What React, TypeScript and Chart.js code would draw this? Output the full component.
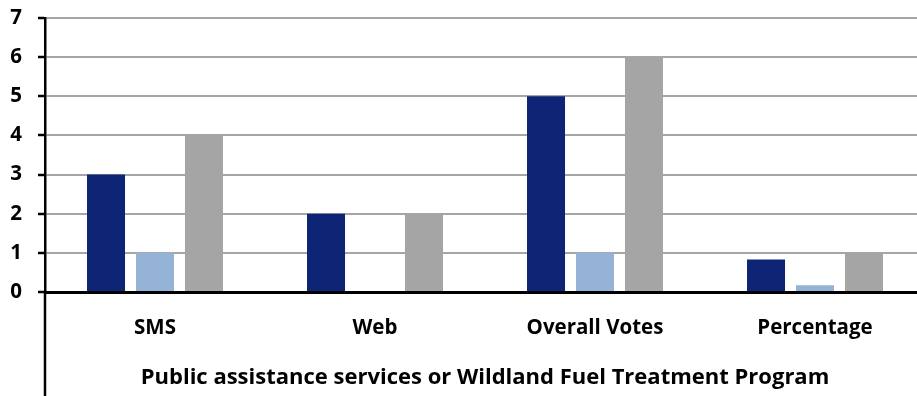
import React, { useEffect, useRef } from "react";
import { Chart, registerables } from "chart.js";

Chart.register(...registerables);

const categories = ["SMS", "Web", "Overall Votes", "Percentage"];
const series1 = [3, 2, 5, 0.83];
const series2 = [1, 0, 1, 0.17];
const series3 = [4, 2, 6, 1];
const yTicks = [0, 1, 2, 3, 4, 5, 6, 7];
const xTitle = "Public assistance services or Wildland Fuel Treatment Program";

const FONT = "'Open Sans', Lato, sans-serif";

const axisExtension = {
  id: "axisExtension",
  afterDraw(chart: any) {
    const { ctx, chartArea } = chart;
    const x = chart.scales.x.left;
    ctx.save();
    ctx.strokeStyle = "#000000";
    ctx.lineWidth = 2.5;
    ctx.beginPath();
    ctx.moveTo(x, chartArea.bottom);
    ctx.lineTo(x, chart.height);
    ctx.stroke();
    ctx.restore();
  },
};

export default function App() {
  const ref = useRef<HTMLCanvasElement | null>(null);
  useEffect(() => {
    if (!ref.current) return;
    const chart = new Chart(ref.current, {
      type: "bar",
      data: {
        labels: categories,
        datasets: [
          { label: "Series 1", data: series1, backgroundColor: "#0d2574" },
          { label: "Series 2", data: series2, backgroundColor: "#95b3d7" },
          { label: "Series 3", data: series3, backgroundColor: "#a5a5a5" },
        ],
      },
      options: {
        animation: false,
        responsive: false,
        maintainAspectRatio: false,
        layout: { padding: { top: 18, left: 0, right: 0, bottom: 0 } },
        plugins: { legend: { display: false }, tooltip: { enabled: false } },
        datasets: { bar: { categoryPercentage: 0.668, barPercentage: 0.776 } },
        scales: {
          x: {
            grid: { display: true, color: "transparent", drawTicks: false },
            border: { display: true, color: "#000000", width: 3 },
            ticks: {
              color: "#000000",
              padding: 24,
              font: { family: FONT, size: 20.5, weight: "bold" },
            },
            title: {
              display: true,
              text: xTitle,
              color: "#000000",
              font: { family: FONT, size: 22, weight: "bold" },
              padding: { top: 0, bottom: 5 },
            },
            afterFit(scale: any) {
              scale.height = 104;
              scale.paddingLeft = 0;
              scale.paddingRight = 0;
            },
          },
          y: {
            min: 0,
            max: 7,
            afterBuildTicks(scale: any) {
              scale.ticks = yTicks.map((v) => ({ value: v }));
            },
            grid: {
              color: "#a6a6a6",
              lineWidth: 2,
              tickColor: "#000000",
              tickLength: 7,
              tickWidth: 2.5,
            },
            border: { display: true, color: "#000000", width: 2.5 },
            ticks: {
              color: "#000000",
              padding: 16,
              font: { family: FONT, size: 20.5, weight: "bold" },
            },
            afterFit(scale: any) {
              scale.width = 45;
              scale.paddingTop = 0;
              scale.paddingBottom = 0;
            },
          },
        },
      },
      plugins: [axisExtension],
    });
    return () => chart.destroy();
  }, []);
  return (
    <div
      style={{
        position: "fixed",
        left: 0,
        top: 0,
        width: 917,
        height: 396,
        overflow: "hidden",
        background: "#ffffff",
      }}
    >
      <canvas ref={ref} width={925} height={396} style={{ display: "block" }} />
    </div>
  );
}
